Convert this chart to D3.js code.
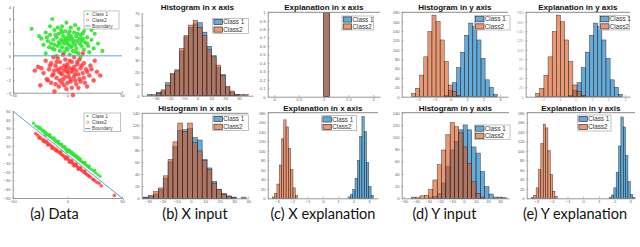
<!DOCTYPE html>
<html>
<head>
<meta charset="utf-8">
<script src="https://cdn.jsdelivr.net/npm/d3@7"></script>
<style>
  body { margin: 0; background: #fff; }
  svg { display: block; }
</style>
</head>
<body>
<svg id="fig" width="640" height="247"></svg>
<script>
// ---- data ----
const seriesNames = ["Class 1", "Class2"];
const scatterNames = ["Class 1", "Class2", "Boundary"];
const captions = ["(a) Data", "(b) X input", "(c) X explanation", "(d) Y input", "(e) Y explanation"];
const titlesTop = ["Histogram in x axis", "Explanation in x axis", "Histogram in y axis", "Explanation in y axis"];
const titlesBottom = ["Histogram in x axis", "Explanation in x axis", "Histogram in y axis", "Explanation in y axis"];

// (a) top: two gaussian blobs split by y = 0
const scatterTopC1 = [[-14,3.0],[-33,2.2],[20,2.6],[-5,2.4],[3,2.3],[10,2.2],[-12,2.1],[15,2.0],[-2,2.0],[6,1.9],[-20,1.9],[25,1.8],[-8,1.8],[1,1.8],[12,1.7],[-16,1.7],[-4,1.6],[8,1.6],[18,1.5],[-10,1.5],[0,1.5],[4,1.4],[-24,1.4],[14,1.4],[-6,1.3],[22,1.3],[-13,1.3],[2,1.3],[9,1.2],[-1,1.2],[-18,1.2],[16,1.1],[5,1.1],[-8,1.1],[28,1.0],[-3,1.0],[11,1.0],[-15,1.0],[7,0.9],[-22,0.9],[1,0.9],[19,0.8],[-9,0.8],[13,0.8],[-5,0.7],[3,0.7],[-17,0.7],[24,0.6],[8,0.6],[-1,0.6],[-12,0.5],[15,0.5],[5,0.4],[-7,0.4],[20,0.3],[-3,0.3],[10,0.2],[-20,0.2],[2,0.1],[-10,0.0],[12,-0.1],[32,0.4],[-26,1.6],[-1,2.7],[7,2.5],[-9,2.3],[17,2.3],[0,1.0],[-2,1.4],[3,1.6],[6,1.2],[-5,1.9],[9,1.8],[-11,1.7],[13,1.2],[-14,0.6],[18,1.0],[-7,1.0],[4,0.8],[-4,1.2],[11,1.4],[0,0.5],[-19,1.5],[22,2.1],[-6,2.1],[2,2.0],[14,1.8],[-16,2.4],[8,0.3],[-12,0.9]];
const scatterTopC2 = [[-12,-2.9],[5,-3.2],[-25,-2.4],[18,-2.5],[-3,-2.4],[8,-2.3],[-15,-2.2],[0,-2.2],[12,-2.1],[-7,-2.0],[24,-2.0],[3,-1.9],[-19,-1.9],[-10,-1.8],[15,-1.8],[6,-1.7],[-2,-1.7],[20,-1.6],[-14,-1.6],[10,-1.5],[-5,-1.5],[1,-1.4],[-22,-1.4],[14,-1.4],[-8,-1.3],[27,-1.3],[4,-1.3],[-12,-1.2],[8,-1.2],[-1,-1.1],[17,-1.1],[-17,-1.1],[2,-1.0],[-6,-1.0],[12,-1.0],[-27,-0.9],[6,-0.9],[-3,-0.8],[21,-0.8],[-11,-0.8],[0,-0.7],[9,-0.7],[-15,-0.6],[15,-0.6],[-7,-0.5],[4,-0.5],[-20,-0.4],[25,-0.4],[-2,-0.3],[11,-0.3],[-9,-0.2],[6,-0.1],[-4,0.1],[14,0.2],[-13,-0.1],[30,-1.6],[-30,-1.2],[-1,-2.7],[10,-2.6],[-8,-2.5],[3,-2.1],[-4,-1.9],[7,-1.5],[-9,-1.1],[1,-1.7],[-1,-0.9],[5,-1.1],[-6,-1.4],[11,-1.9],[-13,-1.5],[18,-1.3],[-16,-0.8],[2,-0.4],[-18,-2.0],[22,-1.1],[9,-0.5],[-5,-2.2],[13,-0.8],[-10,-0.5],[0,-1.3],[-3,-1.2],[7,-2.0],[16,-2.2],[-24,-1.0],[4,-2.6],[-11,-2.3]];
const boundaryTop = [[-50,0],[50,0]];

// (a) bottom: two thin bands along y = -x
const scatterBotC1 = [[-31,36],[-29,33],[-27,32],[-26,30],[-24,29],[-23,27],[-22,28],[-21,25],[-20,26],[-19,24],[-18,23],[-17,22],[-16,21],[-15,20],[-14,19],[-13,18],[-12,17],[-11,15],[-10,16],[-9,14],[-8,13],[-7,12],[-6,11],[-5,10],[-4,9],[-3,8],[-2,7],[-1,5],[0,6],[1,4],[2,3],[3,2],[4,1],[5,0],[6,-1],[7,-2],[8,-3],[9,-4],[10,-5],[11,-6],[12,-7],[13,-8],[14,-9],[15,-10],[16,-11],[17,-12],[18,-13],[19,-14],[20,-15],[22,-17],[24,-19],[26,-21],[28,-23],[30,-25],[-12,19],[-5,12],[0,3],[4,3],[8,-1],[-8,15],[12,-5],[-16,23],[16,-9],[-2,9],[2,5],[6,1],[10,-3],[-20,22],[20,-13],[-25,31],[25,-18]];
const scatterBotC2 = [[-29,24],[-27,22],[-25,20],[-24,18],[-22,17],[-21,16],[-20,14],[-19,15],[-18,13],[-17,12],[-16,11],[-15,10],[-14,9],[-13,8],[-12,7],[-11,5],[-10,6],[-9,4],[-8,3],[-7,2],[-6,1],[-5,0],[-4,-1],[-3,-2],[-2,-3],[-1,-4],[0,-5],[1,-6],[2,-7],[3,-8],[4,-9],[5,-10],[6,-11],[7,-12],[8,-13],[9,-14],[10,-15],[11,-16],[12,-17],[13,-18],[14,-19],[15,-20],[16,-21],[17,-22],[18,-23],[19,-24],[21,-26],[23,-28],[25,-30],[27,-32],[29,-33],[31,-36],[43,-47],[-14,7],[-6,3],[0,-3],[4,-7],[8,-11],[-10,4],[12,-15],[-18,11],[16,-19],[-2,-5],[2,-9],[6,-13],[10,-17],[-22,15],[20,-25],[-26,19],[24,-29]];
const boundaryBot = [[-50,50],[52,-52]];

// histograms: {start, width, counts}
const histXTopC1 = { start: -36, width: 3.3, counts: [1,0,3,4,11,18,22,38,50,58,61,62,54,42,34,24,18,7,3,1,0,0] };
const histXTopC2 = { start: -36, width: 3.3, counts: [0,1,2,5,9,19,21,40,51,60,64,58,51,39,33,26,17,8,4,1,1,1] };
const histXBotC1 = { start: -33, width: 3.4, counts: [2,3,7,14,33,60,85,112,113,115,100,96,64,50,28,15,8,4,2,0,0] };
const histXBotC2 = { start: -33, width: 3.4, counts: [1,5,11,17,37,64,93,124,110,124,92,78,62,47,25,14,7,3,1,0,2] };
const explXTopC1 = { start: 1, width: 0.12, counts: [1000] };
const explXTopC2 = { start: 1, width: 0.12, counts: [1000] };
const explXBotC1 = { start: 1.65, width: 0.15, counts: [3,8,18,42,80,130,172,140,75,25,6] };
const explXBotC2 = { start: -3.3, width: 0.15, counts: [3,10,30,70,125,165,150,105,60,22,6] };
const histYTopC1 = { start: -0.4, width: 0.25, counts: [3,14,30,62,95,131,157,150,121,82,36,20,5] };
const histYTopC2 = { start: -2.4, width: 0.25, counts: [7,18,46,85,139,174,160,121,75,25,11,3] };
const histYBotC1 = { start: -29.6, width: 3.6, counts: [1,3,8,25,52,79,93,112,120,112,84,74,44,19,7,2,2,1] };
const histYBotC2 = { start: -44, width: 3.6, counts: [2,1,4,5,14,30,55,79,104,124,117,107,84,57,27,8,2] };
const explYTopC1 = histYTopC1;
const explYTopC2 = histYTopC2;
const explYBotC1 = { start: 1.65, width: 0.15, counts: [2,7,22,55,110,171,150,90,35,8,2] };
const explYBotC2 = { start: -3.3, width: 0.15, counts: [2,6,22,60,115,156,148,100,50,15,4] };

// ---- drawing ----
const svg = d3.select("#fig");
const FONT = "'Liberation Sans', Arial, sans-serif";
const BLUE = "#0072BD", ORANGE = "#D95319";
const AXIS = "#7d7d7d";

function drawAxes(g, xs, ys, xt, yt, opt = {}) {
  const [l, r] = xs.range();
  const [b, t] = ys.range();
  const xa = g.append("g").attr("transform", `translate(0,${b})`)
    .call(d3.axisBottom(xs).tickValues(xt).tickSize(-1.8).tickSizeOuter(0).tickPadding(1.8)
      .tickFormat(opt.xFmt || d3.format("")));
  const ya = g.append("g").attr("transform", `translate(${l},0)`)
    .call(d3.axisLeft(ys).tickValues(yt).tickSize(-1.8).tickSizeOuter(0).tickPadding(2)
      .tickFormat(opt.yFmt || d3.format("")));
  [xa, ya].forEach(a => {
    a.select(".domain").attr("stroke", AXIS).attr("stroke-width", 0.8);
    a.selectAll(".tick line").attr("stroke", AXIS).attr("stroke-width", 0.5);
    a.selectAll("text").attr("font-size", 4.2).attr("font-family", FONT)
      .attr("fill", opt.labelColor || "#666");
  });
  if (opt.top) {
    g.append("line").attr("x1", l).attr("x2", r).attr("y1", t).attr("y2", t)
      .attr("stroke", "#8a8a8a").attr("stroke-width", 1);
  }
}

function drawBars(g, xs, ys, s, color) {
  const data = s.counts.map((c, i) => ({ x0: s.start + i * s.width, x1: s.start + (i + 1) * s.width, c }))
    .filter(d => d.c > 0);
  g.append("g").selectAll("rect").data(data).join("rect")
    .attr("x", d => xs(d.x0))
    .attr("width", d => xs(d.x1) - xs(d.x0))
    .attr("y", d => ys(d.c))
    .attr("height", d => ys(0) - ys(d.c))
    .attr("fill", color).attr("fill-opacity", 0.6)
    .attr("stroke", "#151515").attr("stroke-width", 0.45).attr("stroke-opacity", 0.85);
}

function histLegend(g, L) {
  g.append("rect").attr("x", L.x).attr("y", L.y).attr("width", L.w).attr("height", L.h)
    .attr("fill", "#fff").attr("stroke", "#9a9a9a").attr("stroke-width", 0.6);
  const rowH = L.h / 2;
  [BLUE, ORANGE].forEach((c, i) => {
    const cy = L.y + rowH * (i + 0.5);
    g.append("rect").attr("x", L.x + 1.2).attr("y", cy - 2.6).attr("width", 8.5).attr("height", 5.2)
      .attr("fill", c).attr("fill-opacity", 0.6).attr("stroke", "#222").attr("stroke-width", 0.6);
    g.append("text").attr("x", L.x + 10.5).attr("y", cy).attr("dy", "0.35em")
      .attr("font-size", 6.3).attr("font-family", FONT).attr("fill", "#333")
      .text(seriesNames[i]);
  });
}

function histPanel(p) {
  const g = svg.append("g");
  const xs = d3.scaleLinear().domain(p.xDom).range([p.x0, p.x1]);
  const ys = d3.scaleLinear().domain(p.yDom).range([p.y1, p.y0]);
  drawBars(g, xs, ys, p.c1, BLUE);
  drawBars(g, xs, ys, p.c2, ORANGE);
  drawAxes(g, xs, ys, p.xt, p.yt, { top: p.top !== false, yFmt: p.yFmt, labelColor: p.labelColor });
  histLegend(g, p.legend);
  g.append("text").attr("x", (p.x0 + p.x1) / 2).attr("y", p.titleY)
    .attr("text-anchor", "middle").attr("font-size", 8).attr("font-weight", "bold")
    .attr("font-family", FONT).attr("fill", "#111").text(p.title);
}

function scatterPanel(p) {
  const g = svg.append("g");
  const xs = d3.scaleLinear().domain(p.xDom).range([p.x0, p.x1]);
  const ys = d3.scaleLinear().domain(p.yDom).range([p.y1, p.y0]);
  drawAxes(g, xs, ys, p.xt, p.yt, { top: false });
  g.append("g").selectAll("circle").data(p.c1).join("circle")
    .attr("cx", d => xs(d[0])).attr("cy", d => ys(d[1])).attr("r", p.r)
    .attr("fill", "#2fe62f").attr("fill-opacity", 0.9);
  g.append("g").selectAll("circle").data(p.c2).join("circle")
    .attr("cx", d => xs(d[0])).attr("cy", d => ys(d[1])).attr("r", p.r)
    .attr("fill", "#ff2424").attr("fill-opacity", 0.75)
    .attr("stroke", "#ff6a6a").attr("stroke-width", 0.4);
  g.append("path").datum(p.boundary)
    .attr("d", d3.line().x(d => xs(d[0])).y(d => ys(d[1])))
    .attr("stroke", "#4f9ad6").attr("stroke-width", 0.9).attr("fill", "none");

  const L = p.legend;
  g.append("rect").attr("x", L.x).attr("y", L.y).attr("width", L.w).attr("height", L.h)
    .attr("fill", "#fff").attr("stroke", "#9a9a9a").attr("stroke-width", 0.6);
  const rowH = L.h / 3;
  scatterNames.forEach((name, i) => {
    const cy = L.y + rowH * (i + 0.5);
    if (i === 0) {
      g.append("circle").attr("cx", L.x + 3.5).attr("cy", cy).attr("r", 1.1).attr("fill", "#2fe62f");
    } else if (i === 1) {
      g.append("circle").attr("cx", L.x + 3.5).attr("cy", cy).attr("r", 1.2)
        .attr("fill", "none").attr("stroke", "#ff5a5a").attr("stroke-width", 0.6);
    } else {
      g.append("line").attr("x1", L.x + 1).attr("x2", L.x + 6.5).attr("y1", cy).attr("y2", cy)
        .attr("stroke", "#4f9ad6").attr("stroke-width", 0.9);
    }
    g.append("text").attr("x", L.x + 8).attr("y", cy).attr("dy", "0.35em")
      .attr("font-size", 4.8).attr("font-family", FONT).attr("fill", "#444").text(name);
  });
}

const ticks = (a, b, s) => d3.range(a, b + s / 2, s);

scatterPanel({
  x0: 13, x1: 122, y0: 6.7, y1: 92.7, xDom: [-50, 50], yDom: [-3, 4],
  xt: [-50, 0, 50], yt: ticks(-3, 4, 1), c1: scatterTopC1, c2: scatterTopC2,
  boundary: boundaryTop, r: 2.1, legend: { x: 84, y: 11, w: 35, h: 18 }
});
scatterPanel({
  x0: 12.7, x1: 122, y0: 111, y1: 198, xDom: [-50, 50], yDom: [-50, 50],
  xt: [-50, 0, 50], yt: ticks(-50, 50, 10), c1: scatterBotC1, c2: scatterBotC2,
  boundary: boundaryBot, r: 1.6, legend: { x: 84, y: 113, w: 36.7, h: 18.7 }
});

// column b
histPanel({ x0: 141.7, x1: 253, y0: 13.3, y1: 95.7, xDom: [-40, 40], yDom: [0, 70],
  xt: ticks(-30, 30, 10), yt: ticks(0, 70, 10), c1: histXTopC1, c2: histXTopC2, top: false,
  legend: { x: 212.7, y: 18.3, w: 35.6, h: 15 }, title: titlesTop[0], titleY: 10 });
histPanel({ x0: 141.7, x1: 248.3, y0: 113.3, y1: 198.3, xDom: [-34.4, 40], yDom: [0, 140],
  xt: ticks(-30, 40, 10), yt: ticks(0, 140, 20), c1: histXBotC1, c2: histXBotC2,
  legend: { x: 212.7, y: 115, w: 35.6, h: 15.7 }, title: titlesBottom[0], titleY: 110.8 });

// column c
histPanel({ x0: 267.7, x1: 380, y0: 12.3, y1: 96.7, xDom: [-0.13, 2.14], yDom: [0, 1000],
  xt: [0, 0.5, 1, 1.5, 2], yt: ticks(0, 1000, 100), yFmt: d => d3.format("")(d / 1000),
  c1: explXTopC1, c2: explXTopC2,
  legend: { x: 342, y: 16, w: 31.7, h: 14 }, title: titlesTop[1], titleY: 10 });
histPanel({ x0: 267.7, x1: 378, y0: 112.7, y1: 198.3, xDom: [-3.6, 3.6], yDom: [0, 180],
  xt: ticks(-3, 3, 1), yt: ticks(0, 180, 20), c1: explXBotC1, c2: explXBotC2,
  legend: { x: 321.7, y: 115.7, w: 35, h: 15 }, title: titlesBottom[1], titleY: 110.8 });

// column d
histPanel({ x0: 401.7, x1: 508, y0: 12.3, y1: 96.7, xDom: [-3, 3.5], yDom: [0, 180],
  xt: ticks(-2, 3, 1), yt: ticks(0, 180, 20), c1: histYTopC1, c2: histYTopC2,
  legend: { x: 474.3, y: 15.7, w: 35.7, h: 14.3 }, title: titlesTop[2], titleY: 10 });
histPanel({ x0: 401.7, x1: 509, y0: 112.7, y1: 198.3, xDom: [-52, 37.5], yDom: [0, 140],
  xt: ticks(-50, 30, 10), yt: ticks(0, 140, 20), c1: histYBotC1, c2: histYBotC2,
  legend: { x: 474.3, y: 125, w: 35.7, h: 14.3 }, title: titlesBottom[2], titleY: 110.8 });

// column e
histPanel({ x0: 525.7, x1: 630, y0: 12.3, y1: 96.7, xDom: [-3, 3.3], yDom: [0, 180],
  xt: ticks(-2, 3, 1), yt: ticks(0, 180, 20), c1: explYTopC1, c2: explYTopC2, labelColor: "#aaa",
  legend: { x: 599.3, y: 15.7, w: 30, h: 14.3 }, title: titlesTop[3], titleY: 10 });
histPanel({ x0: 526.7, x1: 635, y0: 112.7, y1: 198.3, xDom: [-3.6, 3.3], yDom: [0, 180],
  xt: ticks(-3, 3, 1), yt: ticks(0, 180, 20), c1: explYBotC1, c2: explYBotC2,
  legend: { x: 577.7, y: 115, w: 33.3, h: 16 }, title: titlesBottom[3], titleY: 110.8 });

// captions
const captionX = [54.5, 195, 323, 444.5, 575];
svg.append("g").selectAll("text").data(captions).join("text")
  .attr("x", (d, i) => captionX[i]).attr("y", 218.5)
  .attr("text-anchor", "middle").attr("font-size", 14.5).attr("font-family", "Lato, 'Open Sans', sans-serif")
  .attr("fill", "#111").text(d => d);
</script>
</body>
</html>
